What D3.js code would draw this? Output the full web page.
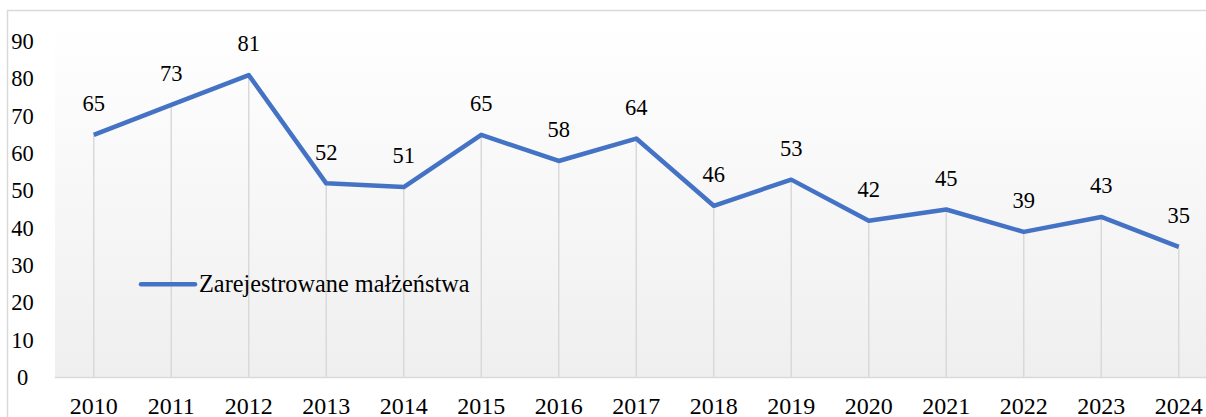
<!DOCTYPE html>
<html>
<head>
<meta charset="utf-8">
<script src="https://cdn.jsdelivr.net/npm/d3@7"></script>
<style>
  html, body { margin: 0; padding: 0; background: #fff; }
  svg { display: block; }
</style>
</head>
<body>
<div id="chart"></div>
<script>
// -----------------------------
// Data
// -----------------------------
const years = ["2010", "2011", "2012", "2013", "2014", "2015", "2016", "2017",
               "2018", "2019", "2020", "2021", "2022", "2023", "2024"];
const marriages = [65, 73, 81, 52, 51, 65, 58, 64, 46, 53, 42, 45, 39, 43, 35];
const yTicks = [0, 10, 20, 30, 40, 50, 60, 70, 80, 90];
const seriesName = "Zarejestrowane małżeństwa";

const width = 1206;
const height = 417;
const margin = { top: 41.5, left: 55, bottom: 377.5 };
const FONT = "'Liberation Serif', 'Times New Roman', serif";

const svg = d3.select("#chart")
  .append("svg")
  .attr("width", width)
  .attr("height", height);

// -----------------------------
// Scales
// -----------------------------
const step = 77.5;
const x = d3.scaleBand()
  .domain(years)
  .range([margin.left, margin.left + step * years.length])
  .padding(0);

const y = d3.scaleLinear()
  .domain([0, 90])
  .range([margin.bottom, margin.top]);

const cx = d => x(d) + x.bandwidth() / 2;

// -----------------------------
// Background & frame
// -----------------------------
const defs = svg.append("defs");
const grad = defs.append("linearGradient")
  .attr("id", "plot-bg")
  .attr("x1", "0%").attr("x2", "0%")
  .attr("y1", "0%").attr("y2", "100%");
grad.append("stop").attr("offset", "0%").attr("stop-color", "#ffffff");
grad.append("stop").attr("offset", "100%").attr("stop-color", "#efefef");

svg.append("rect")
  .attr("x", margin.left)
  .attr("y", 20)
  .attr("width", width - margin.left)
  .attr("height", margin.bottom - 20)
  .attr("fill", "url(#plot-bg)");

// outer chart border (top + left visible)
svg.append("path")
  .attr("d", `M7.5,${height} V10.5 H${width}`)
  .attr("fill", "none")
  .attr("stroke", "#d9d9d9")
  .attr("stroke-width", 1.5);

// -----------------------------
// Drop lines
// -----------------------------
svg.append("g")
  .selectAll("line")
  .data(years)
  .join("line")
  .attr("x1", d => cx(d))
  .attr("x2", d => cx(d))
  .attr("y1", (d, i) => y(marriages[i]))
  .attr("y2", y(0))
  .attr("stroke", "#d9d9d9")
  .attr("stroke-width", 1.5);

// baseline
svg.append("line")
  .attr("x1", margin.left)
  .attr("x2", width)
  .attr("y1", y(0))
  .attr("y2", y(0))
  .attr("stroke", "#d9d9d9")
  .attr("stroke-width", 1.5);

// -----------------------------
// Axes labels
// -----------------------------
svg.append("g")
  .selectAll("text")
  .data(yTicks)
  .join("text")
  .attr("x", 22.5)
  .attr("y", d => y(d))
  .attr("dy", "0.34em")
  .attr("text-anchor", "middle")
  .style("font-family", FONT)
  .style("font-size", "22.5px")
  .style("fill", "#000")
  .text(d => d);

svg.append("g")
  .selectAll("text")
  .data(years)
  .join("text")
  .attr("x", d => cx(d))
  .attr("y", 413.5)
  .attr("text-anchor", "middle")
  .style("font-family", FONT)
  .style("font-size", "24px")
  .style("fill", "#000")
  .text(d => d);

// -----------------------------
// Line
// -----------------------------
const line = d3.line()
  .x((d, i) => cx(years[i]))
  .y(d => y(d));

svg.append("path")
  .datum(marriages)
  .attr("d", line)
  .attr("fill", "none")
  .attr("stroke", "#4472c4")
  .attr("stroke-width", 4.5)
  .attr("stroke-linejoin", "round");

// data labels
svg.append("g")
  .selectAll("text")
  .data(marriages)
  .join("text")
  .attr("x", (d, i) => cx(years[i]))
  .attr("y", d => y(d) - 31.5)
  .attr("dy", "0.34em")
  .attr("text-anchor", "middle")
  .style("font-family", FONT)
  .style("font-size", "22.5px")
  .style("fill", "#000")
  .text(d => d);

// -----------------------------
// Legend
// -----------------------------
const legend = svg.append("g").attr("transform", "translate(141, 284.3)");
legend.append("line")
  .attr("x1", 0).attr("x2", 54)
  .attr("y1", 0).attr("y2", 0)
  .attr("stroke", "#4472c4")
  .attr("stroke-width", 4.5)
  .attr("stroke-linecap", "round");
legend.append("text")
  .attr("x", 58)
  .attr("y", 7.3)
  .style("font-family", FONT)
  .style("font-size", "24.3px")
  .style("fill", "#000")
  .text(seriesName);
</script>
</body>
</html>
